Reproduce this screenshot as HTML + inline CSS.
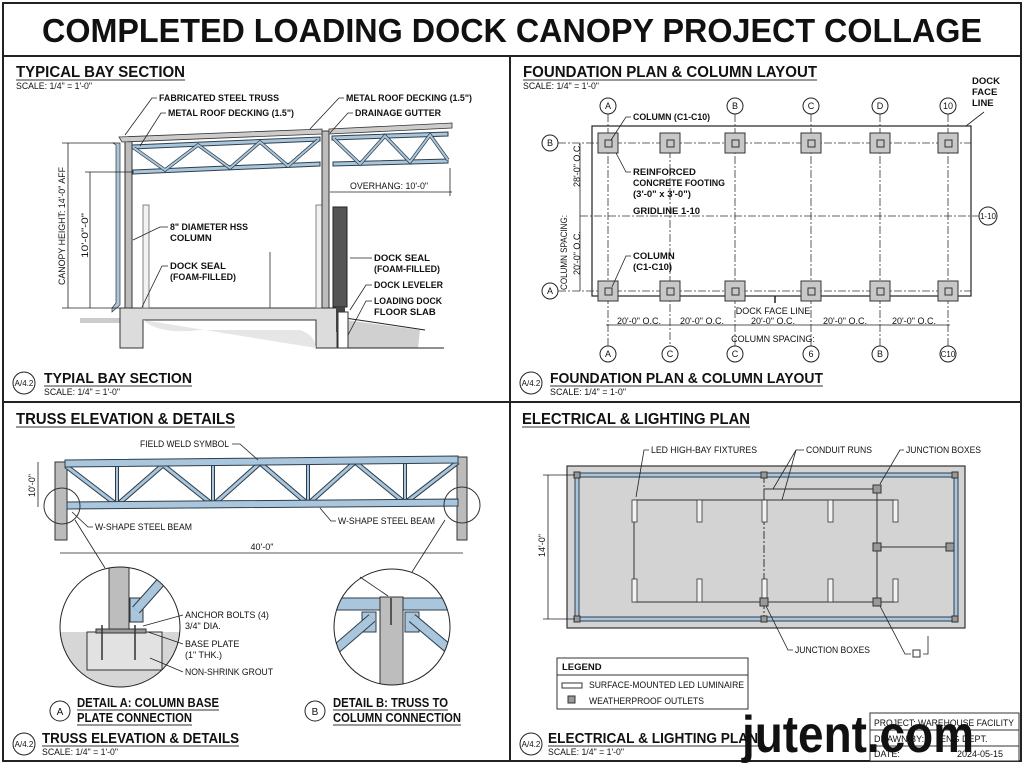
<!DOCTYPE html>
<html><head><meta charset="utf-8"><style>
html,body{margin:0;padding:0;background:#fff}
svg{display:block}
text{font-family:"Liberation Sans",sans-serif;fill:#111}
.l{font-size:9.5px;font-weight:bold}
.s{font-size:9px}
.h{font-size:16px;font-weight:bold}
.bt{font-size:15px;font-weight:bold}
.ln{stroke:#222;stroke-width:0.8;fill:none}
.blue{stroke:#2e3e4c;stroke-width:1;fill:#a9c6dc}
.dd{stroke:#333;stroke-width:0.8;stroke-dasharray:8 2 2 2;fill:none}
</style></head><body>
<svg width="1024" height="764" viewBox="0 0 1024 764" xmlns="http://www.w3.org/2000/svg">
<rect x="0" y="0" width="1024" height="764" fill="#fff"/>
<rect x="3" y="3" width="1018" height="758" fill="none" stroke="#222" stroke-width="2"/>
<line x1="3" y1="56" x2="1021" y2="56" stroke="#222" stroke-width="2"/>
<line x1="510" y1="56" x2="510" y2="761" stroke="#222" stroke-width="2"/>
<line x1="3" y1="402" x2="1021" y2="402" stroke="#222" stroke-width="2"/>
<text x="512" y="42" text-anchor="middle" font-size="33" font-weight="bold" textLength="940" lengthAdjust="spacingAndGlyphs">COMPLETED LOADING DOCK CANOPY PROJECT COLLAGE</text>

<!-- ========== Q1 TYPICAL BAY SECTION ========== -->
<text x="16" y="77" class="h" textLength="169" lengthAdjust="spacingAndGlyphs">TYPICAL BAY SECTION</text>
<line x1="16" y1="80" x2="185" y2="80" stroke="#333"/>
<text x="16" y="89" class="s" textLength="76" lengthAdjust="spacingAndGlyphs">SCALE: 1/4" = 1'-0"</text>
<rect x="80" y="318" width="40" height="5" fill="#ccc"/>
<polygon points="345,320 420,330 418,348 345,348" fill="#d0d0d0"/>
<line x1="345" y1="348" x2="444" y2="348" stroke="#222"/>
<line x1="345" y1="318" x2="425" y2="330" stroke="#222"/>
<path d="M120,308 H337 V348 H316 V320 H143 V348 H120 Z" fill="#dcdcdc" stroke="#333"/>
<path d="M143,320 Q160,335 200,330 L300,330 Q315,335 316,348" fill="#e6e6e6" stroke="none"/>
<rect x="333" y="207" width="14" height="100" fill="#555" stroke="#222"/>
<rect x="336" y="307" width="9" height="25" fill="#444"/>
<rect x="338" y="312" width="10" height="36" fill="#fff" stroke="#333"/>
<rect x="143" y="205" width="6" height="103" fill="#f2f2f2" stroke="#555" stroke-width="0.7"/>
<rect x="316" y="205" width="6" height="103" fill="#f2f2f2" stroke="#555" stroke-width="0.7"/>
<line x1="270" y1="252" x2="270" y2="308" stroke="#555"/>
<rect x="125" y="140" width="7" height="168" fill="#bdbdbd" stroke="#333"/>
<rect x="322" y="131" width="7" height="177" fill="#bdbdbd" stroke="#333"/>
<path d="M113,143 H120 V305 L112,312 V308 L116,303 V145 Z" fill="#a9c6dc" stroke="#333" stroke-width="0.7"/>
<polygon points="119,137 322,129 322,134 122,142" fill="#ccc" stroke="#333" stroke-width="0.8"/>
<polygon points="329,129 452,123 452,128 329,134" fill="#ccc" stroke="#333" stroke-width="0.8"/>
<polygon points="132,145 320,137 320,141 132,149" class="blue"/>
<polygon points="133,170 320,162 320,166 133,174" class="blue"/>
<polyline points="134,148 165,170 198,145 230,168 260,142 288,166 318,140" fill="none" stroke="#2e3e4c" stroke-width="3.5"/>
<polyline points="134,148 165,170 198,145 230,168 260,142 288,166 318,140" fill="none" stroke="#a9c6dc" stroke-width="2"/>
<polygon points="332,136 448,132 448,136 332,140" class="blue"/>
<polygon points="333,162 448,159 448,163 333,166" class="blue"/>
<polyline points="334,139 360,164 385,136 410,162 430,135 448,160" fill="none" stroke="#2e3e4c" stroke-width="3.5"/>
<polyline points="334,139 360,164 385,136 410,162 430,135 448,160" fill="none" stroke="#a9c6dc" stroke-width="2"/>
<line x1="68" y1="143" x2="68" y2="308" class="ln"/>
<line x1="62" y1="143" x2="115" y2="143" class="ln"/><line x1="62" y1="308" x2="120" y2="308" class="ln"/>
<line x1="90" y1="172" x2="90" y2="308" class="ln"/><line x1="85" y1="172" x2="133" y2="172" class="ln"/>
<text transform="translate(65,285) rotate(-90)" class="s" textLength="118" lengthAdjust="spacingAndGlyphs">CANOPY HEIGHT: 14'-0" AFF</text>
<text transform="translate(88,258) rotate(-90)" class="s" textLength="45" lengthAdjust="spacingAndGlyphs">10'-0"-0"</text>
<line x1="330" y1="192" x2="452" y2="192" class="ln"/><line x1="450" y1="168" x2="450" y2="196" class="ln"/>
<text x="350" y="189" class="s" textLength="78" lengthAdjust="spacingAndGlyphs">OVERHANG: 10'-0"</text>
<text x="159" y="101" class="l" textLength="120" lengthAdjust="spacingAndGlyphs">FABRICATED STEEL TRUSS</text>
<polyline points="157,98 152,98 125,135" class="ln"/>
<text x="168" y="116" class="l" textLength="126" lengthAdjust="spacingAndGlyphs">METAL ROOF DECKING (1.5")</text>
<polyline points="166,113 161,113 140,146" class="ln"/>
<text x="346" y="101" class="l" textLength="126" lengthAdjust="spacingAndGlyphs">METAL ROOF DECKING (1.5")</text>
<polyline points="344,98 339,98 310,129" class="ln"/>
<text x="355" y="116" class="l" textLength="86" lengthAdjust="spacingAndGlyphs">DRAINAGE GUTTER</text>
<polyline points="353,113 348,113 330,133" class="ln"/>
<text x="170" y="230" class="l" textLength="78" lengthAdjust="spacingAndGlyphs">8" DIAMETER HSS</text>
<text x="170" y="241" class="l">COLUMN</text>
<polyline points="168,227 160,227 133,240" class="ln"/>
<text x="170" y="269" class="l">DOCK SEAL</text>
<text x="170" y="280" class="l" textLength="66" lengthAdjust="spacingAndGlyphs">(FOAM-FILLED)</text>
<polyline points="168,266 162,266 142,307" class="ln"/>
<text x="374" y="261" class="l">DOCK SEAL</text>
<text x="374" y="272" class="l" textLength="66" lengthAdjust="spacingAndGlyphs">(FOAM-FILLED)</text>
<line x1="350" y1="258" x2="372" y2="258" class="ln"/>
<text x="374" y="288" class="l" textLength="69" lengthAdjust="spacingAndGlyphs">DOCK LEVELER</text>
<polyline points="372,285 366,285 350,310" class="ln"/>
<text x="374" y="304" class="l" textLength="68" lengthAdjust="spacingAndGlyphs">LOADING DOCK</text>
<text x="374" y="315" class="l">FLOOR SLAB</text>
<polyline points="372,301 366,301 348,335" class="ln"/>
<circle cx="24" cy="383" r="11" fill="#fff" stroke="#222"/>
<text x="24" y="386" text-anchor="middle" font-size="8">A/4.2</text>
<text x="44" y="383" class="bt" textLength="148" lengthAdjust="spacingAndGlyphs">TYPIAL BAY SECTION</text>
<line x1="44" y1="386" x2="192" y2="386" stroke="#333"/>
<text x="44" y="395" class="s" textLength="76" lengthAdjust="spacingAndGlyphs">SCALE: 1/4" = 1'-0"</text>

<!-- ========== Q2 FOUNDATION PLAN ========== -->
<text x="523" y="77" class="h" textLength="294" lengthAdjust="spacingAndGlyphs">FOUNDATION PLAN &amp; COLUMN LAYOUT</text>
<line x1="523" y1="80" x2="817" y2="80" stroke="#333"/>
<text x="523" y="89" class="s" textLength="76" lengthAdjust="spacingAndGlyphs">SCALE: 1/4" = 1'-0"</text>
<rect x="592" y="126" width="379" height="170" fill="none" stroke="#222" stroke-width="1.2"/>
<g class="dd">
<line x1="608" y1="114" x2="608" y2="346"/><line x1="670" y1="150" x2="670" y2="346"/>
<line x1="735" y1="114" x2="735" y2="346"/><line x1="811" y1="114" x2="811" y2="346"/>
<line x1="880" y1="114" x2="880" y2="346"/><line x1="948" y1="114" x2="948" y2="346"/>
<line x1="558" y1="143" x2="971" y2="143"/><line x1="558" y1="291" x2="971" y2="291"/>
<line x1="580" y1="216" x2="980" y2="216"/>
</g>
<g fill="#c8c8c8" stroke="#333">
<rect x="598" y="133" width="20" height="20"/><rect x="660" y="133" width="20" height="20"/><rect x="725" y="133" width="20" height="20"/><rect x="801" y="133" width="20" height="20"/><rect x="870" y="133" width="20" height="20"/><rect x="938" y="133" width="20" height="20"/>
<rect x="598" y="281" width="20" height="20"/><rect x="660" y="281" width="20" height="20"/><rect x="725" y="281" width="20" height="20"/><rect x="801" y="281" width="20" height="20"/><rect x="870" y="281" width="20" height="20"/><rect x="938" y="281" width="20" height="20"/>
</g>
<g fill="none" stroke="#333">
<rect x="605" y="140" width="7" height="7"/><rect x="667" y="140" width="7" height="7"/><rect x="732" y="140" width="7" height="7"/><rect x="808" y="140" width="7" height="7"/><rect x="877" y="140" width="7" height="7"/><rect x="945" y="140" width="7" height="7"/>
<rect x="605" y="288" width="7" height="7"/><rect x="667" y="288" width="7" height="7"/><rect x="732" y="288" width="7" height="7"/><rect x="808" y="288" width="7" height="7"/><rect x="877" y="288" width="7" height="7"/><rect x="945" y="288" width="7" height="7"/>
</g>
<g fill="#fff" stroke="#222">
<circle cx="608" cy="106" r="8"/><circle cx="735" cy="106" r="8"/><circle cx="811" cy="106" r="8"/><circle cx="880" cy="106" r="8"/><circle cx="948" cy="106" r="8"/>
<circle cx="608" cy="354" r="8"/><circle cx="670" cy="354" r="8"/><circle cx="735" cy="354" r="8"/><circle cx="811" cy="354" r="8"/><circle cx="880" cy="354" r="8"/><circle cx="948" cy="354" r="8"/>
<circle cx="550" cy="143" r="8"/><circle cx="550" cy="291" r="8"/><circle cx="988" cy="216" r="9"/>
</g>
<g font-size="9" text-anchor="middle">
<text x="608" y="109">A</text><text x="735" y="109">B</text><text x="811" y="109">C</text><text x="880" y="109">D</text><text x="948" y="109">10</text>
<text x="608" y="357">A</text><text x="670" y="357">C</text><text x="735" y="357">C</text><text x="811" y="357">6</text><text x="880" y="357">B</text><text x="948" y="357" font-size="8">C10</text>
<text x="550" y="146">B</text><text x="550" y="294">A</text><text x="988" y="219" font-size="8">1-10</text>
</g>
<line x1="580" y1="143" x2="580" y2="291" class="ln"/>
<text transform="translate(567,290) rotate(-90)" class="s" textLength="75" lengthAdjust="spacingAndGlyphs">COLUMN SPACING:</text>
<text transform="translate(580,187) rotate(-90)" class="s">28'-0" O.C.</text>
<text transform="translate(580,275) rotate(-90)" class="s">20'-0" O.C.</text>
<line x1="606" y1="325" x2="950" y2="325" class="ln"/>
<g class="s" text-anchor="middle">
<text x="639" y="324">20'-0" O.C.</text><text x="702" y="324">20'-0" O.C.</text><text x="773" y="324">20'-0" O.C.</text><text x="845" y="324">20'-0" O.C.</text><text x="914" y="324">20'-0" O.C.</text>
<text x="773" y="342">COLUMN SPACING:</text><text x="773" y="314">DOCK FACE LINE</text>
</g>
<line x1="775" y1="296" x2="775" y2="303" stroke="#222" stroke-width="1.5"/>
<text x="972" y="84" class="l">DOCK</text><text x="972" y="95" class="l">FACE</text><text x="972" y="106" class="l">LINE</text>
<line x1="984" y1="112" x2="966" y2="126" class="ln"/>
<text x="633" y="120" class="l" textLength="77" lengthAdjust="spacingAndGlyphs">COLUMN (C1-C10)</text>
<polyline points="631,117 626,117 611,140" class="ln"/>
<text x="633" y="175" class="l">REINFORCED</text>
<text x="633" y="186" class="l" textLength="92" lengthAdjust="spacingAndGlyphs">CONCRETE FOOTING</text>
<text x="633" y="197" class="l">(3'-0" x 3'-0")</text>
<polyline points="631,172 626,172 616,153" class="ln"/>
<text x="633" y="214" class="l">GRIDLINE 1-10</text>
<text x="633" y="259" class="l">COLUMN</text><text x="633" y="270" class="l">(C1-C10)</text>
<polyline points="631,256 626,256 612,287" class="ln"/>
<circle cx="531" cy="383" r="11" fill="#fff" stroke="#222"/>
<text x="531" y="386" text-anchor="middle" font-size="8">A/4.2</text>
<text x="550" y="383" class="bt" textLength="273" lengthAdjust="spacingAndGlyphs">FOUNDATION PLAN &amp; COLUMN LAYOUT</text>
<line x1="550" y1="386" x2="823" y2="386" stroke="#333"/>
<text x="550" y="395" class="s" textLength="76" lengthAdjust="spacingAndGlyphs">SCALE: 1/4" = 1-0"</text>

<!-- ========== Q3 TRUSS ========== -->
<text x="16" y="424" class="h" textLength="219" lengthAdjust="spacingAndGlyphs">TRUSS ELEVATION &amp; DETAILS</text>
<line x1="16" y1="427" x2="235" y2="427" stroke="#333"/>
<rect x="55" y="462" width="12" height="78" fill="#bbb" stroke="#333"/>
<rect x="457" y="457" width="10" height="83" fill="#bbb" stroke="#333"/>
<polyline points="66,466 117,505 163,465 213,505 260,463 308,504 355,462 405,503 458,462" fill="none" stroke="#2e3e4c" stroke-width="5"/>
<polyline points="66,466 117,505 163,465 213,505 260,463 308,504 355,462 405,503 458,462" fill="none" stroke="#a9c6dc" stroke-width="3"/>
<g stroke="#2e3e4c" stroke-width="4"><line x1="117" y1="465" x2="117" y2="505"/><line x1="213" y1="464" x2="213" y2="505"/><line x1="308" y1="462" x2="308" y2="504"/><line x1="405" y1="461" x2="405" y2="503"/></g>
<g stroke="#a9c6dc" stroke-width="2"><line x1="117" y1="465" x2="117" y2="505"/><line x1="213" y1="464" x2="213" y2="505"/><line x1="308" y1="462" x2="308" y2="504"/><line x1="405" y1="461" x2="405" y2="503"/></g>
<polygon points="65,460 458,456 458,463 65,467" class="blue"/>
<polygon points="67,502 458,499 458,506 67,509" class="blue"/>
<circle cx="62" cy="506" r="18" fill="none" stroke="#333"/>
<circle cx="462" cy="505" r="18" fill="none" stroke="#333"/>
<line x1="38" y1="462" x2="38" y2="507" class="ln"/>
<text transform="translate(35,497) rotate(-90)" class="s">10'-0"</text>
<line x1="60" y1="553" x2="463" y2="553" class="ln"/>
<text x="262" y="550" class="s" text-anchor="middle">40'-0"</text>
<text x="140" y="447" class="s" textLength="89" lengthAdjust="spacingAndGlyphs">FIELD WELD SYMBOL</text>
<polyline points="232,444 240,444 258,460" class="ln"/>
<text x="95" y="530" class="s" textLength="97" lengthAdjust="spacingAndGlyphs">W-SHAPE STEEL BEAM</text>
<polyline points="93,527 88,527 72,512" class="ln"/>
<text x="338" y="524" class="s" textLength="97" lengthAdjust="spacingAndGlyphs">W-SHAPE STEEL BEAM</text>
<polyline points="336,521 331,521 320,508" class="ln"/>
<line x1="75" y1="520" x2="105" y2="568" class="ln"/>
<line x1="445" y1="520" x2="412" y2="572" class="ln"/>
<clipPath id="ca"><circle cx="120" cy="627" r="60"/></clipPath>
<g clip-path="url(#ca)">
<rect x="55" y="632" width="130" height="60" fill="#d6d6d6"/>
<rect x="87" y="632" width="75" height="38" fill="#e2e2e2" stroke="#333"/>
<rect x="109" y="565" width="20" height="67" fill="#bdbdbd" stroke="#333"/>
<polygon points="130,598 143,598 143,622 130,622" fill="#a9c6dc" stroke="#333"/>
<line x1="136" y1="610" x2="160" y2="583" stroke="#2e3e4c" stroke-width="10"/>
<line x1="136" y1="610" x2="160" y2="583" stroke="#a9c6dc" stroke-width="8"/>
<rect x="96" y="629" width="50" height="4" fill="#999" stroke="#333"/>
<g stroke="#333" stroke-width="1.5"><line x1="102" y1="625" x2="102" y2="660"/><line x1="135" y1="625" x2="135" y2="660"/></g>
</g>
<circle cx="120" cy="627" r="60" fill="none" stroke="#222"/>
<text x="185" y="618" class="s">ANCHOR BOLTS (4)</text><text x="185" y="629" class="s">3/4" DIA.</text>
<line x1="183" y1="615" x2="143" y2="626" class="ln"/>
<text x="185" y="647" class="s">BASE PLATE</text><text x="185" y="658" class="s">(1" THK.)</text>
<line x1="183" y1="644" x2="148" y2="632" class="ln"/>
<text x="185" y="675" class="s" textLength="88" lengthAdjust="spacingAndGlyphs">NON-SHRINK GROUT</text>
<line x1="183" y1="672" x2="150" y2="658" class="ln"/>
<clipPath id="cb"><circle cx="392" cy="627" r="58"/></clipPath>
<g clip-path="url(#cb)">
<rect x="330" y="598" width="125" height="12" class="blue"/>
<rect x="362" y="612" width="14" height="20" class="blue"/><rect x="405" y="612" width="14" height="20" class="blue"/>
<line x1="372" y1="618" x2="335" y2="650" stroke="#2e3e4c" stroke-width="10"/><line x1="372" y1="618" x2="335" y2="650" stroke="#a9c6dc" stroke-width="8"/>
<line x1="412" y1="618" x2="450" y2="650" stroke="#2e3e4c" stroke-width="10"/><line x1="412" y1="618" x2="450" y2="650" stroke="#a9c6dc" stroke-width="8"/>
<rect x="380" y="597" width="23" height="95" fill="#bdbdbd" stroke="#333"/>
<line x1="391" y1="598" x2="391" y2="625" stroke="#333" stroke-width="1.5"/>
</g>
<circle cx="392" cy="627" r="58" fill="none" stroke="#222"/>
<line x1="360" y1="577" x2="388" y2="596" class="ln"/>
<circle cx="60" cy="711" r="10" fill="#fff" stroke="#222"/><text x="60" y="715" text-anchor="middle" font-size="10">A</text>
<text x="77" y="707" font-size="13" font-weight="bold" textLength="142" lengthAdjust="spacingAndGlyphs">DETAIL A: COLUMN BASE</text>
<line x1="77" y1="710" x2="219" y2="710" stroke="#333"/>
<text x="77" y="722" font-size="13" font-weight="bold" textLength="115" lengthAdjust="spacingAndGlyphs">PLATE CONNECTION</text>
<line x1="77" y1="725" x2="192" y2="725" stroke="#333"/>
<circle cx="315" cy="711" r="10" fill="#fff" stroke="#222"/><text x="315" y="715" text-anchor="middle" font-size="10">B</text>
<text x="333" y="707" font-size="13" font-weight="bold" textLength="115" lengthAdjust="spacingAndGlyphs">DETAIL B: TRUSS TO</text>
<line x1="333" y1="710" x2="448" y2="710" stroke="#333"/>
<text x="333" y="722" font-size="13" font-weight="bold" textLength="128" lengthAdjust="spacingAndGlyphs">COLUMN CONNECTION</text>
<line x1="333" y1="725" x2="461" y2="725" stroke="#333"/>
<circle cx="24" cy="744" r="11" fill="#fff" stroke="#222"/>
<text x="24" y="747" text-anchor="middle" font-size="8">A/4.2</text>
<text x="42" y="743" class="bt" textLength="197" lengthAdjust="spacingAndGlyphs">TRUSS ELEVATION &amp; DETAILS</text>
<line x1="42" y1="746" x2="239" y2="746" stroke="#333"/>
<text x="42" y="755" class="s" textLength="76" lengthAdjust="spacingAndGlyphs">SCALE: 1/4" = 1'-0"</text>

<!-- ========== Q4 ELECTRICAL ========== -->
<text x="522" y="424" class="h" textLength="228" lengthAdjust="spacingAndGlyphs">ELECTRICAL &amp; LIGHTING PLAN</text>
<line x1="522" y1="427" x2="750" y2="427" stroke="#333"/>
<rect x="567" y="466" width="398" height="162" fill="#d3d3d3" stroke="#333" stroke-width="1.2"/>
<rect x="577" y="475" width="379" height="144" fill="none" stroke="#2e3e4c" stroke-width="5"/>
<rect x="577" y="475" width="379" height="144" fill="none" stroke="#a9c6dc" stroke-width="3"/>
<g stroke="#333" stroke-width="1" fill="none">
<polyline points="634,602 634,500 895,500"/>
<line x1="634" y1="602" x2="895" y2="602"/>
<polyline points="764,500 764,489 877,489 877,602"/>
<line x1="877" y1="547" x2="950" y2="547"/>
<line x1="764" y1="475" x2="764" y2="619" stroke-dasharray="8 2 2 2"/>
</g>
<g fill="#f2f2f2" stroke="#333" stroke-width="0.8">
<rect x="632" y="500" width="5" height="22"/><rect x="697" y="500" width="5" height="22"/><rect x="762" y="500" width="5" height="22"/><rect x="828" y="500" width="5" height="22"/><rect x="893" y="500" width="5" height="22"/>
<rect x="632" y="579" width="5" height="23"/><rect x="697" y="579" width="5" height="23"/><rect x="762" y="579" width="5" height="23"/><rect x="828" y="579" width="5" height="23"/><rect x="893" y="579" width="5" height="23"/>
</g>
<g fill="#999" stroke="#333">
<rect x="873" y="485" width="8" height="8"/><rect x="873" y="543" width="8" height="8"/><rect x="873" y="598" width="8" height="8"/><rect x="760" y="598" width="8" height="8"/><rect x="946" y="543" width="8" height="8"/>
<rect x="574" y="472" width="6" height="6"/><rect x="761" y="472" width="6" height="6"/><rect x="952" y="472" width="6" height="6"/>
<rect x="574" y="616" width="6" height="6"/><rect x="761" y="616" width="6" height="6"/><rect x="952" y="616" width="6" height="6"/>
</g>
<line x1="548" y1="475" x2="548" y2="619" class="ln"/>
<line x1="543" y1="475" x2="575" y2="475" class="ln"/><line x1="543" y1="619" x2="575" y2="619" class="ln"/>
<text transform="translate(545,557) rotate(-90)" class="s">14'-0"</text>
<text x="651" y="453" class="s" textLength="106" lengthAdjust="spacingAndGlyphs">LED HIGH-BAY FIXTURES</text>
<polyline points="649,450 644,450 636,497" class="ln"/>
<text x="806" y="453" class="s" textLength="66" lengthAdjust="spacingAndGlyphs">CONDUIT RUNS</text>
<polyline points="804,450 796,450 773,489" class="ln"/><line x1="796" y1="450" x2="782" y2="500" class="ln"/>
<text x="906" y="453" class="s" textLength="75" lengthAdjust="spacingAndGlyphs">JUNCTION BOXES</text>
<polyline points="904,450 900,450 880,484" class="ln"/>
<text x="795" y="653" class="s" textLength="75" lengthAdjust="spacingAndGlyphs">JUNCTION BOXES</text>
<polyline points="793,650 788,650 766,606" class="ln"/>
<polyline points="911,654 905,654 880,606" class="ln"/>
<rect x="913" y="650" width="7" height="7" fill="#fff" stroke="#333"/>
<polyline points="923,654 928,654 928,636" class="ln"/>
<rect x="557" y="658" width="191" height="51" fill="#fff" stroke="#333"/>
<line x1="557" y1="675" x2="748" y2="675" stroke="#333"/>
<text x="562" y="670" class="l">LEGEND</text>
<rect x="562" y="683" width="20" height="5" fill="#fff" stroke="#333"/>
<text x="589" y="688" class="s" textLength="155" lengthAdjust="spacingAndGlyphs">SURFACE-MOUNTED LED LUMINAIRE</text>
<rect x="568" y="696" width="7" height="7" fill="#999" stroke="#333"/>
<text x="589" y="704" class="s" textLength="115" lengthAdjust="spacingAndGlyphs">WEATHERPROOF OUTLETS</text>
<circle cx="531" cy="744" r="11" fill="#fff" stroke="#222"/>
<text x="531" y="747" text-anchor="middle" font-size="8">A/4.2</text>
<text x="548" y="743" class="bt" textLength="210" lengthAdjust="spacingAndGlyphs">ELECTRICAL &amp; LIGHTING PLAN</text>
<line x1="548" y1="746" x2="758" y2="746" stroke="#333"/>
<text x="548" y="755" class="s" textLength="76" lengthAdjust="spacingAndGlyphs">SCALE: 1/4" = 1'-0"</text>
<rect x="870" y="713" width="149" height="48" fill="#fff" stroke="#333"/>
<line x1="870" y1="730" x2="1019" y2="730" stroke="#333"/><line x1="870" y1="746" x2="1019" y2="746" stroke="#333"/>
<text x="874" y="726" class="s" textLength="140" lengthAdjust="spacingAndGlyphs">PROJECT: WAREHOUSE FACILITY</text>
<text x="874" y="742" class="s">DRAWN BY:</text><text x="940" y="742" class="s">ENG DEPT.</text>
<text x="874" y="757" class="s">DATE:</text><text x="957" y="757" class="s">2024-05-15</text>
<text x="742" y="752" font-size="52" font-weight="bold" fill="#111" textLength="232" lengthAdjust="spacingAndGlyphs">jutent.com</text>
</svg>
</body></html>
